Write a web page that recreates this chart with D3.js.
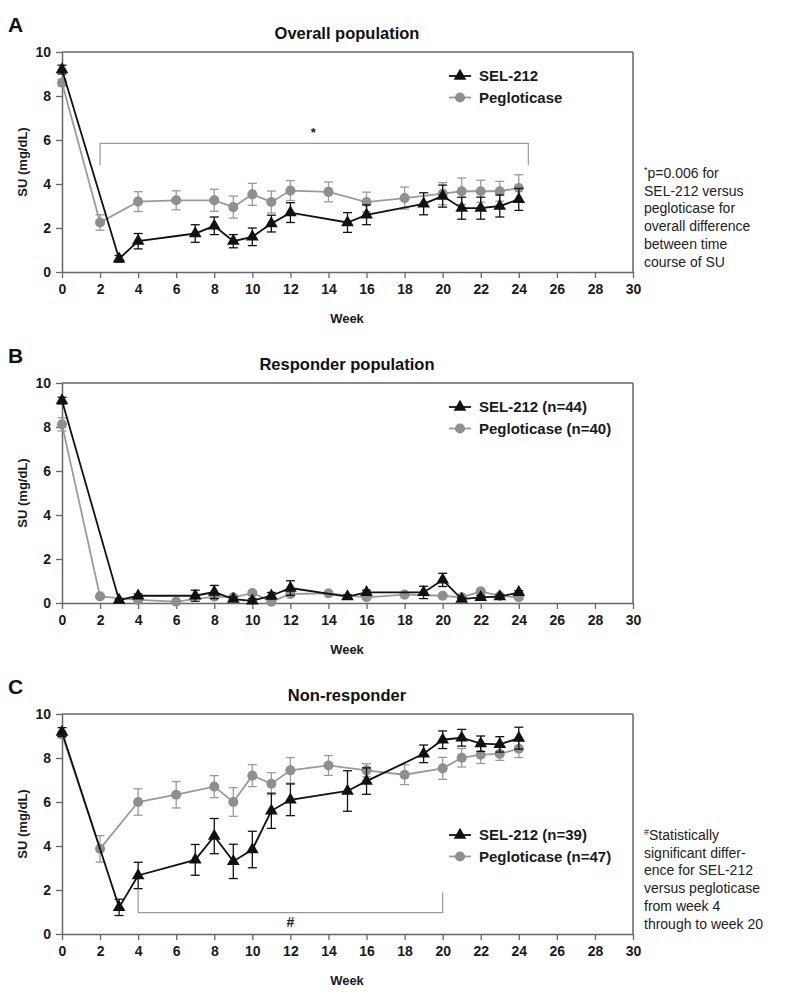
<!DOCTYPE html>
<html><head><meta charset="utf-8">
<script src="https://cdn.jsdelivr.net/npm/d3@7"></script>
<style>body{margin:0;background:#fff;}svg{display:block;font-family:"Liberation Sans",Arial,sans-serif;}</style>
</head><body>
<script>
// ---- data ----
const selWeeks = [0,3,4,7,8,9,10,11,12,15,16,19,20,21,22,23,24];
const pegWeeks = [0,2,4,6,8,9,10,11,12,14,16,18,20,21,22,23,24];

const selA = [9.2,0.6,1.4,1.75,2.1,1.4,1.6,2.2,2.7,2.25,2.6,3.1,3.45,2.9,2.9,3.0,3.3];
const selAerr = [0.2,0.15,0.35,0.4,0.4,0.3,0.4,0.38,0.45,0.45,0.45,0.5,0.5,0.5,0.5,0.5,0.5];
const pegA = [8.6,2.25,3.2,3.26,3.26,2.95,3.53,3.18,3.7,3.64,3.18,3.36,3.56,3.67,3.67,3.67,3.82];
const pegAerr = [0.15,0.35,0.45,0.43,0.5,0.5,0.5,0.5,0.45,0.45,0.45,0.5,0.5,0.6,0.5,0.45,0.6];

const selB = [9.2,0.13,0.33,0.33,0.5,0.18,0.1,0.33,0.68,0.29,0.48,0.48,1.05,0.18,0.26,0.29,0.48];
const selBerr = [0.15,0.05,0.08,0.25,0.3,0.1,0.1,0.15,0.33,0.08,0.1,0.28,0.3,0.05,0.08,0.08,0.08];
const pegB = [8.12,0.3,0.14,0.06,0.29,0.26,0.45,0.06,0.41,0.44,0.26,0.38,0.33,0.26,0.53,0.32,0.26];
const pegBerr = [0.3,0.08,0.05,0.03,0.08,0.08,0.1,0.03,0.1,0.08,0.08,0.08,0.08,0.05,0.1,0.08,0.08];

const selC = [9.18,1.21,2.66,3.37,4.45,3.3,3.84,5.6,6.1,6.5,6.95,8.19,8.83,8.92,8.65,8.62,8.9];
const selCerr = [0.2,0.37,0.6,0.7,0.8,0.78,0.83,0.8,0.72,0.92,0.6,0.4,0.4,0.38,0.35,0.35,0.5];
const pegC = [9.07,3.87,6.0,6.33,6.7,6.0,7.2,6.83,7.44,7.66,7.44,7.24,7.53,8.01,8.15,8.19,8.42];
const pegCerr = [0.15,0.6,0.6,0.6,0.5,0.65,0.5,0.5,0.58,0.45,0.3,0.45,0.5,0.42,0.4,0.3,0.4];

const xTicks = d3.range(0,31,2);
const yTicks = [0,2,4,6,8,10];

const panels = [
  {letter:"A", title:"Overall population", top:52, sel:selA, selErr:selAerr, peg:pegA, pegErr:pegAerr,
   legend:["SEL-212","Pegloticase"], legendY:76,
   bracket:{x1:2,x2:24.5,y:5.85,end1:4.85,end2:4.85,label:"*",lx:13.2,ly:6.15},
   noteMark:"*", note:["p=0.006 for","SEL-212 versus","pegloticase for","overall difference","between time","course of SU"], noteY:178},
  {letter:"B", title:"Responder population", top:383, sel:selB, selErr:selBerr, peg:pegB, pegErr:pegBerr,
   legend:["SEL-212 (n=44)","Pegloticase (n=40)"], legendY:407},
  {letter:"C", title:"Non-responder", top:714, sel:selC, selErr:selCerr, peg:pegC, pegErr:pegCerr,
   legend:["SEL-212 (n=39)","Pegloticase (n=47)"], legendY:835,
   bracket:{x1:4,x2:20,y:0.97,end1:2.0,end2:1.9,label:"#",lx:12,ly:0.3},
   noteMark:"#", note:["Statistically","significant differ-","ence for SEL-212","versus pegloticase","from week 4","through to week 20"], noteY:840}
];

const W=796,H=999;
const svg=d3.select("body").append("svg").attr("width",W).attr("height",H);
const x=d3.scaleLinear().domain([0,30]).range([62,633]);
const PH=220;
const axisCol="#666", selCol="#111", pegCol="#8f8f8f", pegLine="#9a9a9a";

const tri=d3.symbol().type(d3.symbolTriangle).size(70);
const circ=d3.symbol().type(d3.symbolCircle).size(80);

panels.forEach(p=>{
  const g=svg.append("g");
  const y=d3.scaleLinear().domain([0,10]).range([p.top+PH,p.top]);
  g.append("text").attr("x",8).attr("y",p.top-20).attr("font-size",21).attr("font-weight","bold").attr("fill","#111").text(p.letter);
  g.append("text").attr("x",347).attr("y",p.top-13).attr("text-anchor","middle").attr("font-size",16.5).attr("font-weight","bold").attr("fill","#111").text(p.title);
  g.append("line").attr("x1",x(0)).attr("x2",x(30)).attr("y1",y(10)).attr("y2",y(10)).attr("stroke",axisCol).attr("stroke-width",1.5);
  g.append("line").attr("x1",x(30)).attr("x2",x(30)).attr("y1",y(10)).attr("y2",y(0)).attr("stroke",axisCol).attr("stroke-width",1.5);
  const xa=g.append("g").attr("transform",`translate(0,${y(0)})`).call(d3.axisBottom(x).tickValues(xTicks).tickSize(6).tickSizeOuter(0).tickPadding(6));
  const ya=g.append("g").attr("transform",`translate(${x(0)},0)`).call(d3.axisLeft(y).tickValues(yTicks).tickSize(6).tickSizeOuter(0).tickPadding(5));
  [xa,ya].forEach(a=>{
    a.select(".domain").attr("stroke",axisCol).attr("stroke-width",1.5);
    a.selectAll(".tick line").attr("stroke",axisCol).attr("stroke-width",1.3);
    a.selectAll("text").attr("font-size",14).attr("font-weight","bold").attr("fill","#1a1a1a").attr("font-family","Liberation Sans, Arial, sans-serif");
  });
  g.append("text").attr("x",347).attr("y",p.top+PH+51).attr("text-anchor","middle").attr("font-size",13).attr("font-weight","bold").attr("fill","#1a1a1a").text("Week");
  g.append("text").attr("transform",`translate(27,${p.top+PH/2}) rotate(-90)`).attr("text-anchor","middle").attr("font-size",13).attr("font-weight","bold").attr("fill","#1a1a1a").text("SU (mg/dL)");

  if(p.bracket){
    const b=p.bracket;
    g.append("path").attr("d",`M${x(b.x1)},${y(b.end1)}V${y(b.y)}H${x(b.x2)}V${y(b.end2)}`)
      .attr("fill","none").attr("stroke","#999").attr("stroke-width",1.2);
    g.append("text").attr("x",x(b.lx)).attr("y",y(b.ly)).attr("text-anchor","middle").attr("font-size",b.label==="*"?13:14).attr("font-weight","bold").attr("fill","#222").text(b.label);
  }

  const selD=selWeeks.map((w,i)=>({w,v:p.sel[i],e:p.selErr[i]}));
  const pegD=pegWeeks.map((w,i)=>({w,v:p.peg[i],e:p.pegErr[i]}));
  const line=d3.line().x(d=>x(d.w)).y(d=>y(d.v));

  function errBars(data,col){
    const eg=g.append("g").attr("stroke",col).attr("stroke-width",1.3);
    data.forEach(d=>{
      eg.append("line").attr("x1",x(d.w)).attr("x2",x(d.w)).attr("y1",y(d.v-d.e)).attr("y2",y(d.v+d.e));
      eg.append("line").attr("x1",x(d.w)-4.5).attr("x2",x(d.w)+4.5).attr("y1",y(d.v+d.e)).attr("y2",y(d.v+d.e));
      eg.append("line").attr("x1",x(d.w)-4.5).attr("x2",x(d.w)+4.5).attr("y1",y(d.v-d.e)).attr("y2",y(d.v-d.e));
    });
  }
  errBars(pegD,pegLine);
  g.append("path").attr("d",line(pegD)).attr("fill","none").attr("stroke",pegLine).attr("stroke-width",1.8);
  g.selectAll(null).data(pegD).enter().append("path").attr("d",circ).attr("transform",d=>`translate(${x(d.w)},${y(d.v)})`).attr("fill",pegCol);
  errBars(selD,selCol);
  g.append("path").attr("d",line(selD)).attr("fill","none").attr("stroke",selCol).attr("stroke-width",1.8);
  g.selectAll(null).data(selD).enter().append("path").attr("d",tri).attr("transform",d=>`translate(${x(d.w)},${y(d.v)})`).attr("fill",selCol);

  const lg=g.append("g");
  [[selCol,tri,p.legend[0]],[pegLine,circ,p.legend[1]]].forEach((it,i)=>{
    const ly=p.legendY+i*21.5;
    lg.append("line").attr("x1",449).attr("x2",471).attr("y1",ly).attr("y2",ly).attr("stroke",it[0]).attr("stroke-width",1.8);
    lg.append("path").attr("d",it[1]).attr("transform",`translate(460,${ly})`).attr("fill",i===0?selCol:pegCol);
    lg.append("text").attr("x",479).attr("y",ly+5).attr("font-size",15).attr("font-weight","bold").attr("fill","#1a1a1a").text(it[2]);
  });

  if(p.note){
    p.note.forEach((t,i)=>{
      const tx=g.append("text").attr("x",644).attr("y",p.noteY+i*17.7).attr("font-size",14).attr("fill","#222");
      if(i===0){
        tx.append("tspan").attr("font-size",9).attr("dy",-5).text(p.noteMark);
        tx.append("tspan").attr("dy",5).text(t);
      } else tx.text(t);
    });
  }
});
</script>
</body></html>
